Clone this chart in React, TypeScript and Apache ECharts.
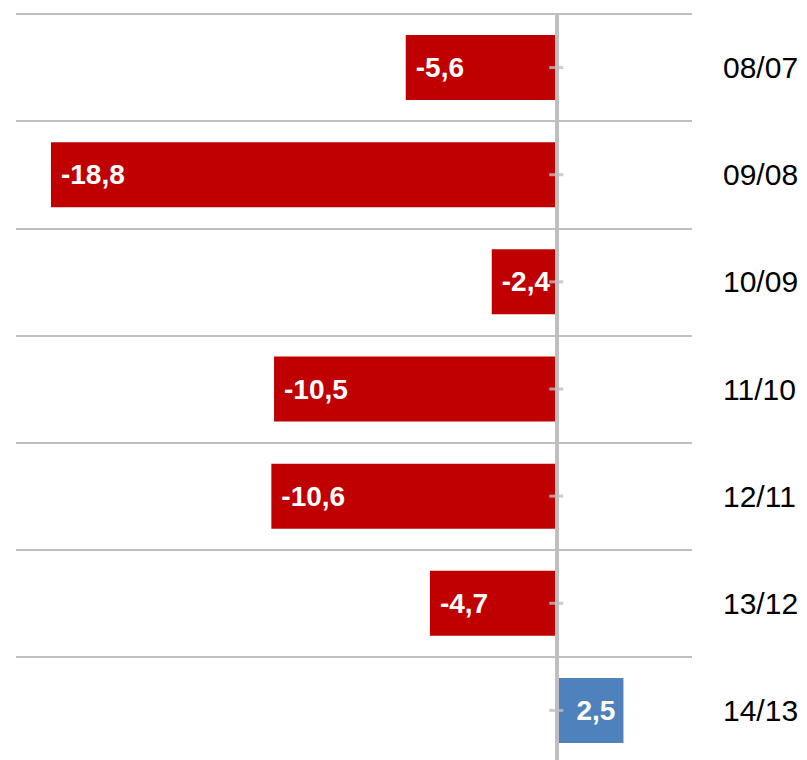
import React, { useEffect, useRef } from "react";
import * as echarts from "echarts";

const categories = ["08/07", "09/08", "10/09", "11/10", "12/11", "13/12", "14/13"];
const values = [-5.6, -18.8, -2.4, -10.5, -10.6, -4.7, 2.5];
const zeroTicks = categories.map(() => 0);

const RED = "#C00000";
const BLUE = "#4F81BD";
const GRAY = "#BFBFBF";
const FONT = "'Liberation Sans', Arial, sans-serif";

export default function App() {
  const ref = useRef<HTMLDivElement>(null);
  useEffect(() => {
    document.body.style.margin = "0";
    const chart = echarts.init(ref.current!, null, { renderer: "svg" });
    const barData = values.map((v) => ({
      value: v,
      itemStyle: { color: v < 0 ? RED : BLUE },
      label: { position: v < 0 ? "insideLeft" : "insideRight", distance: v < 0 ? 10 : 8 },
    }));
    chart.setOption({
      animation: false,
      grid: { left: 16, right: 115, top: 14, height: 750, outerBoundsMode: "none" },
      xAxis: {
        type: "value",
        min: -20.1,
        max: 5.05,
        axisLine: { show: false },
        axisTick: { show: false },
        axisLabel: { show: false },
        splitLine: { show: false },
      },
      yAxis: {
        type: "category",
        data: categories,
        inverse: true,
        position: "right",
        axisLine: { show: false },
        axisTick: { show: false },
        axisLabel: { margin: 31, fontSize: 30, color: "#000", fontFamily: FONT, align: "left" },
        splitLine: { show: true, lineStyle: { color: GRAY, width: 2 } },
      },
      series: [
        {
          type: "bar",
          data: barData,
          barWidth: 65,
          z: 2,
          label: {
            show: true,
            color: "#fff",
            fontWeight: "bold",
            fontSize: 28,
            fontFamily: FONT,
            formatter: (p: any) => Number(p.value).toFixed(1).replace(".", ","),
          },
        },
        {
          type: "scatter",
          data: zeroTicks,
          symbol: "rect",
          symbolSize: [14, 3],
          itemStyle: { color: GRAY },
          z: 5,
          silent: true,
          markLine: {
            silent: true,
            symbol: "none",
            label: { show: false },
            lineStyle: { color: GRAY, width: 4, type: "solid" },
            data: [{ xAxis: 0 }],
          },
        },
      ],
    });
    return () => chart.dispose();
  }, []);
  return <div ref={ref} style={{ width: 807, height: 760 }} />;
}
